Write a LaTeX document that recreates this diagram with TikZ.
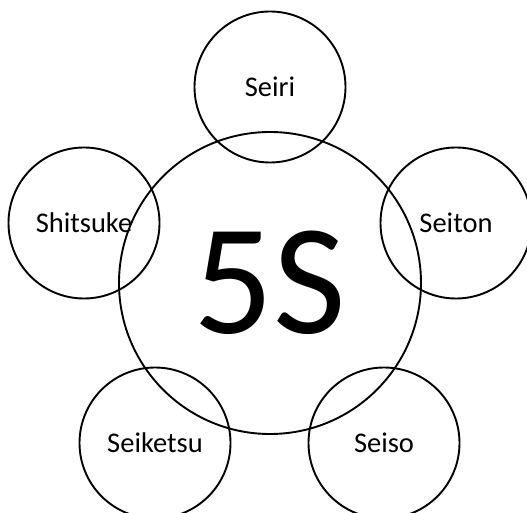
\documentclass[tikz,border=0pt]{standalone}
\usepackage{fontspec}
\setmainfont{Carlito}
\tikzset{
  pillar/.style={circle, draw=black, line width=1.9pt, minimum size=151pt,
                 inner sep=0pt, text=black, font=\fontsize{28.5}{30}\selectfont},
  hub/.style={circle, draw=black, line width=1.9pt, minimum size=302pt,
              inner sep=0pt, text=black, font=\fontsize{158}{160}\selectfont}
}
\begin{document}
\begin{tikzpicture}[x=1pt,y=1pt]

  \useasboundingbox (0,0) rectangle (527,512);

  % ══ CENTRE ═══════════════════════════════════════════════════
  \node[hub] (fives) at (270,229) {5S};

  % ══ THE FIVE PILLARS ═════════════════════════════════════════
  \node[pillar] (seiri)    at (270,425) {Seiri};
  \node[pillar] (seiton)   at (456,289) {Seiton};
  \node[pillar] (seiso)    at (384, 69) {Seiso};
  \node[pillar] (seiketsu) at (155, 69) {Seiketsu};
  \node[pillar] (shitsuke) at ( 84,289) {Shitsuke};

\end{tikzpicture}
\end{document}
